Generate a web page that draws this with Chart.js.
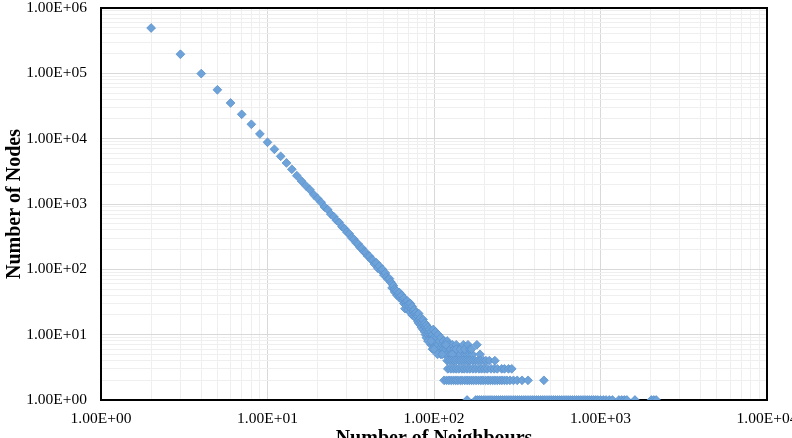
<!DOCTYPE html>
<html><head><meta charset="utf-8">
<script src="https://cdn.jsdelivr.net/npm/chart.js@4/dist/chart.umd.min.js"></script>
<style>
html,body{margin:0;padding:0;background:#fff;overflow:hidden;width:792px;height:438px;}
#wrap{position:absolute;left:0;top:0;width:800px;height:452px;}
</style></head><body>
<div id="wrap"><canvas id="c"></canvas></div>
<script>
const xTickLabels = ['1.00E+00','1.00E+01','1.00E+02','1.00E+03','1.00E+04'];
const yTickLabels = ['1.00E+00','1.00E+01','1.00E+02','1.00E+03','1.00E+04','1.00E+05','1.00E+06'];
const xTitle = 'Number of Neighbours';
const yTitle = 'Number of Nodes';

// main power-law line (one count per degree)
const mainX = [2,3,4,5,6,7,8,9,10,11,12,13,14,15,16,17,18,19,20,21,22,23,24,25,26,27,28,29,30,31,32,33,34,35,36,37,38,39,40,41,42,43,44,45,46,47,48,49,50,51,52,53,54,55];
const mainY = [494000,196000,99000,56000,35200,23600,16600,11800,8800,6880,5370,4250,3400,2710,2250,1900,1650,1380,1210,1060,900,820,700,640,560,520,450,420,370,350,305,290,255,245,215,210,185,180,160,158,140,138,120,126,104,112,96,100,82,88,76,70,72,64];

// scattered tail
const bandX = [56,56,57,58,58,59,60,60,61,62,
  62,63,64,64,65,66,66,67,68,68,
  69,70,70,71,72,72,73,74,74,75,
  76,76,77,78,78,79,80,80,81,81,
  82,83,83,84,84,85,86,86,87,88,
  88,89,89,90,90,91,92,92,93,93,
  94,95,95,96,96,97,98,98,99,100,
  100,102,102,104,104,106,106,108,108,110,
  110,112,114,114,116,116,118,120,120,123,
  123,126,126,129,132,132,136,140,140,144,
  148,153,158,158,164,170,181,189,
  92,96,98,100,105,112,118,129,136,144,
  150,153,160,164,168];
const bandY = [60,52,56,50,45,48,46,40,42,44,
  37,38,35,40,33,36,30,25,31,28,
  33,29,24,27,30,22,25,27,20,23,
  24,19,21,22,18,20,19,16,21,15,
  17,18,14,16,13,15,17,12,14,15,
  11,13,10,14,9,12,13,10,11,8,
  12,10,9,11,7,9,10,8,12,9,
  7,11,8,9,6,10,7,8,6,9,
  5,7,8,6,7,5,6,8,5,7,
  6,6,5,7,6,5,7,6,5,5,
  6,5,6,5,5,5,7,5,
  8,8,6,6,5,5,7,5,6,6,
  7,6,7,6,6];

// degrees having exactly 4, 3, 2, 1 nodes
const row4X = [120,124,128,132,136,141,145,150,155,160,165,171,177,183,190,198,205,215,232];
const row3X = [121,126,131,136,141,147,152,158,164,171,178,186,193,201,209,220,230,240,255,265,280,293];
const row2X = [115,119,123,127,131,135,139,144,148,153,158,163,168,173,179,185,191,197,204,211,218,225,232,240,248,256,265,274,286,300,316,338,367,457];
const row1X = [158,178,183,188,193,199,205,211,217,223,230,237,244,251,258,266,274,282,290,299,308,317,326,336,346,356,367,378,389,400,412,424,437,450,463,477,491,506,521,536,552,568,585,603,621,639,658,678,698,719,740,762,785,808,832,857,883,909,936,964,1000,1040,1080,1130,1180,1290,1340,1390,1440,1610,2020,2090,2160];

const points = [
  ...mainX.map((x,i)=>({x, y: mainY[i]})),
  ...bandX.map((x,i)=>({x, y: bandY[i]})),
  ...row4X.map(x=>({x, y: 4})),
  ...row3X.map(x=>({x, y: 3})),
  ...row2X.map(x=>({x, y: 2})),
  ...row1X.map(x=>({x, y: 1}))
];

function isPow10(v){ const l = Math.log10(v); return Math.abs(l - Math.round(l)) < 1e-9; }
function logTicks(maxExp){
  const t = [];
  for (let e = 0; e < maxExp; e++) for (let m = 1; m <= 9; m++) t.push({value: m * Math.pow(10, e)});
  t.push({value: Math.pow(10, maxExp)});
  return t;
}
const gridColor = c => (c.tick && isPow10(c.tick.value)) ? '#d9d9d9' : '#efefef';

const framePlugin = {
  id: 'frame',
  beforeDatasetsDraw(chart){
    const a = chart.chartArea, ctx = chart.ctx;
    ctx.save();
    ctx.strokeStyle = '#000';
    ctx.lineWidth = 2;
    ctx.strokeRect(a.left, a.top, a.right - a.left, a.bottom - a.top);
    ctx.restore();
  }
};

const tickFont = {family: '"Liberation Serif", "Times New Roman", serif', size: 15.5};
const titleFont = {family: '"Liberation Serif", "Times New Roman", serif', size: 20, weight: 'bold'};

new Chart(document.getElementById('c'), {
  type: 'scatter',
  data: { datasets: [{
    data: points,
    pointStyle: 'rectRot',
    pointRadius: 4.4,
    pointHoverRadius: 4.4,
    backgroundColor: 'rgb(110,163,218)',
    borderColor: 'rgb(92,146,205)',
    borderWidth: 0.8
  }]},
  options: {
    responsive: true,
    maintainAspectRatio: false,
    animation: false,
    events: [],
    layout: { padding: {left: 0, top: 8, right: 33, bottom: 0} },
    plugins: { legend: {display: false}, tooltip: {enabled: false} },
    scales: {
      x: {
        type: 'logarithmic', position: 'bottom', min: 1, max: 10000,
        afterBuildTicks: s => { s.ticks = logTicks(4); },
        afterFit: s => { s.height = 52; s.paddingLeft = 0; s.paddingRight = 0; },
        grid: { color: gridColor, lineWidth: 1, drawTicks: false },
        border: { display: false },
        ticks: {
          autoSkip: false, maxRotation: 0, padding: 10, color: '#000', font: tickFont,
          callback: v => isPow10(v) ? xTickLabels[Math.round(Math.log10(v))] : ''
        },
        title: { display: true, text: xTitle, color: '#000', font: titleFont, padding: {top: 4, bottom: 1} }
      },
      y: {
        type: 'logarithmic', position: 'left', min: 1, max: 1000000,
        afterBuildTicks: s => { s.ticks = logTicks(6); },
        afterFit: s => { s.width = 101; s.paddingTop = 0; s.paddingBottom = 0; },
        grid: { color: gridColor, lineWidth: 1, drawTicks: false },
        border: { display: false },
        ticks: {
          autoSkip: false, padding: 14, color: '#000', font: tickFont,
          callback: v => isPow10(v) ? yTickLabels[Math.round(Math.log10(v))] : ''
        },
        title: { display: true, text: yTitle, color: '#000', font: titleFont, padding: {top: 3, bottom: 0} }
      }
    }
  },
  plugins: [framePlugin]
});
</script>
</body></html>
